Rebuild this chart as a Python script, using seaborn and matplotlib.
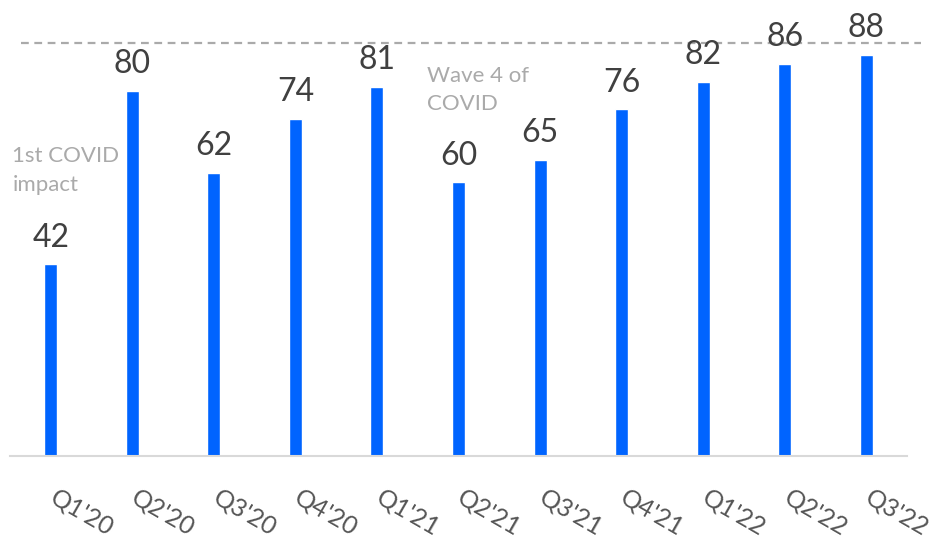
import matplotlib
matplotlib.use("Agg")
import matplotlib.pyplot as plt
import matplotlib.transforms as mtransforms
import seaborn as sns
import pandas as pd

quarters = ["Q1'20", "Q2'20", "Q3'20", "Q4'20", "Q1'21", "Q2'21",
            "Q3'21", "Q4'21", "Q1'22", "Q2'22", "Q3'22"]
values = [42, 80, 62, 74, 81, 60, 65, 76, 82, 86, 88]
reference_level = 90.5

sns.set_theme(style="white")
plt.rcParams["font.family"] = ["Lato", "DejaVu Sans"]

df = pd.DataFrame({"quarter": quarters, "value": values})

fig = plt.figure(figsize=(9.41, 5.44), dpi=100)
ax = fig.add_axes([10 / 941, 88 / 544, 897 / 941, 456 / 544])

sns.barplot(data=df, x="quarter", y="value", color="#0064FF",
            width=0.16, saturation=1, ax=ax)

ax.set_xlim(-0.5, 10.5)
ax.set_ylim(0, 100)

# value labels above each bar
for i, v in enumerate(values):
    ax.text(i, v + 3.9, f"{v}", ha="center", va="baseline",
            fontsize=23, color="#404040")

# reference dashed line running across the top
ax.plot([-0.36, 10.67], [reference_level, reference_level],
        ls=(0, (3.5, 2.5)), color="#aaaaaa", lw=1.6, clip_on=False, zorder=0)

# event annotations
ax.text(-0.47, 68, "1st COVID\nimpact", ha="left", va="top",
        fontsize=16, color="#aaaaaa", linespacing=1.55)
ax.text(4.61, 85.6, "Wave 4 of\nCOVID", ha="left", va="top",
        fontsize=16, color="#aaaaaa", linespacing=1.55)

for s in ["top", "right", "left"]:
    ax.spines[s].set_visible(False)
ax.spines["bottom"].set_color("#d9d9d9")
ax.spines["bottom"].set_linewidth(1.5)

ax.set_yticks([])
ax.set_xlabel("")
ax.set_ylabel("")
ax.tick_params(axis="x", length=0, pad=21)
ax.set_xticks(range(len(quarters)))
ax.set_xticklabels(quarters, rotation=-30, ha="left", va="top",
                   rotation_mode="anchor", fontsize=18, color="#555555")
shift = mtransforms.ScaledTranslation(7 / 100, 0, fig.dpi_scale_trans)
for lbl in ax.get_xticklabels():
    lbl.set_transform(lbl.get_transform() + shift)

fig.savefig("out.png", dpi=100)
